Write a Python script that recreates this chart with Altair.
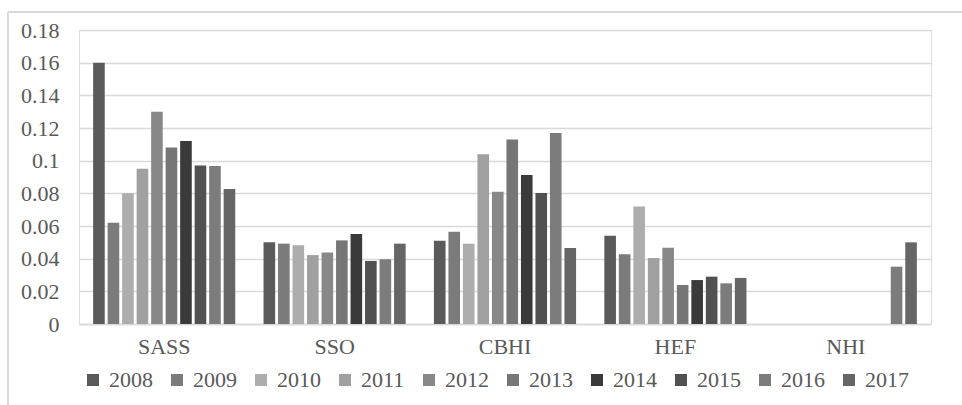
import altair as alt
import pandas as pd

categories = ["SASS", "SSO", "CBHI", "HEF", "NHI"]
years = ["2008", "2009", "2010", "2011", "2012", "2013", "2014", "2015", "2016", "2017"]

sass = [0.160, 0.062, 0.080, 0.095, 0.130, 0.108, 0.112, 0.097, 0.0967, 0.0826]
sso = [0.050, 0.0492, 0.0482, 0.0422, 0.0437, 0.0512, 0.0551, 0.0386, 0.0396, 0.0492]
cbhi = [0.051, 0.0565, 0.0492, 0.104, 0.081, 0.113, 0.0912, 0.0802, 0.117, 0.0465]
hef = [0.054, 0.0427, 0.072, 0.0404, 0.0467, 0.0239, 0.0269, 0.029, 0.0249, 0.0282]
nhi = [None, None, None, None, None, None, None, None, 0.0351, 0.050]

colors = ["#5a5a5a", "#7b7b7b", "#adadad", "#a0a0a0", "#888888",
          "#767676", "#3a3a3a", "#515151", "#7c7c7c", "#666666"]

series = [sass, sso, cbhi, hef, nhi]
rows = []
for cat, vals in zip(categories, series):
    for yr, v in zip(years, vals):
        if v is not None:
            rows.append({"category": cat, "year": yr, "value": v})
df = pd.DataFrame(rows)

FONT = "Liberation Serif"
TXT = "#595959"
GRID = "#d9d9d9"

bars = alt.Chart(df).mark_bar().encode(
    x=alt.X("category:N", sort=categories,
            scale=alt.Scale(paddingInner=0, paddingOuter=0),
            axis=alt.Axis(title=None, labelAngle=0, ticks=False, domainColor=GRID,
                          domainWidth=1.5, labelFont=FONT, labelFontSize=22,
                          labelColor=TXT, labelPadding=12)),
    xOffset=alt.XOffset("year:N", sort=years,
                        scale=alt.Scale(domain=years, paddingInner=0.2, paddingOuter=0.975)),
    y=alt.Y("value:Q", scale=alt.Scale(domain=[0, 0.18], nice=False),
            axis=alt.Axis(title=None, values=[0, 0.02, 0.04, 0.06, 0.08, 0.1, 0.12, 0.14, 0.16, 0.18],
                          labelExpr="format(datum.value, '~g')", domain=False, ticks=False,
                          gridColor=GRID, gridWidth=1.5, labelFont=FONT, labelFontSize=22,
                          labelColor=TXT, labelPadding=20)),
    color=alt.Color("year:N", sort=years, scale=alt.Scale(domain=years, range=colors),
                    legend=alt.Legend(title=None, orient="none", direction="horizontal",
                                      columns=10, legendX=3, legendY=339,
                                      symbolType="square", symbolSize=144, symbolStrokeWidth=0,
                                      labelFont=FONT, labelFontSize=22, labelColor=TXT,
                                      labelOffset=5, columnPadding=13)),
)

top_border = alt.Chart(df).mark_rule(color=GRID, strokeWidth=1.5).encode(
    x=alt.value(-71), x2=alt.value(900), y=alt.value(-18))
left_border = alt.Chart(df).mark_rule(color=GRID, strokeWidth=1.5).encode(
    x=alt.value(-71), y=alt.value(-18), y2=alt.value(400))

chart = alt.layer(bars, top_border, left_border).properties(
    width=852, height=294,
    autosize=alt.AutoSizeParams(type="none"),
    padding={"left": 79, "top": 30, "right": 31, "bottom": 81},
).configure_view(stroke=None).configure(background="white")

chart.save("out.html", embed_options={"renderer": "svg", "actions": False})
